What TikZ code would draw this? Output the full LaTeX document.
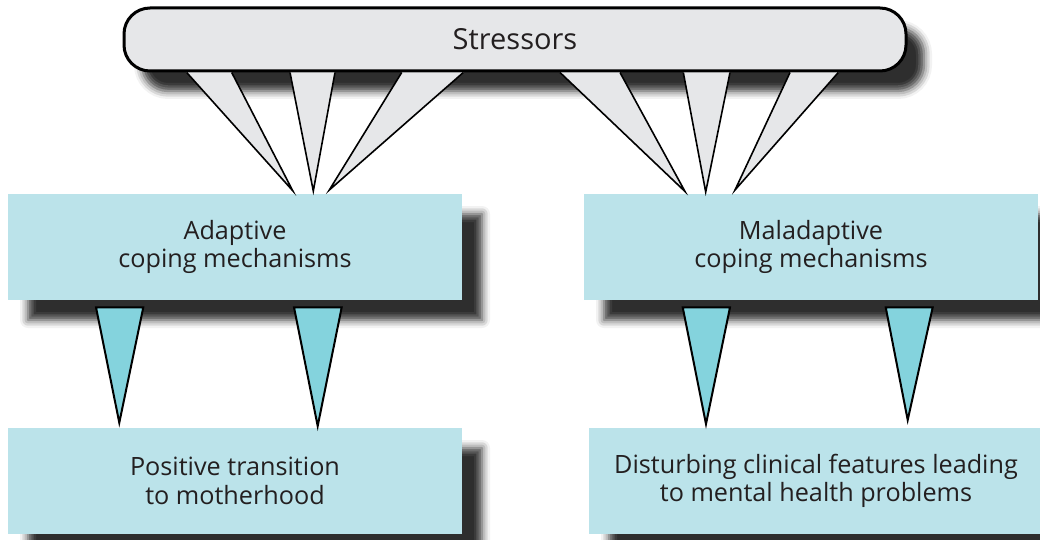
\documentclass[tikz,border=0pt]{standalone}
\usepackage{fontspec}
\setmainfont{Open Sans}
\usetikzlibrary{calc,shadows.blur}
\definecolor{boxfill}{RGB}{187,227,234}
\definecolor{trifill}{RGB}{132,211,221}
\definecolor{greyfill}{RGB}{230,231,233}
\definecolor{txt}{RGB}{35,31,32}
\tikzset{
  cbox/.style={fill=boxfill, minimum width=454pt, minimum height=106pt, inner sep=0pt,
    align=center, text=txt, font=\fontsize{25.2}{28.5}\selectfont,
    blur shadow={shadow xshift=20pt, shadow yshift=-20pt, shadow blur radius=8pt, shadow opacity=82}},
  stressbox/.style={fill=greyfill, draw=black, line width=3pt, rounded corners=26pt,
    minimum width=782pt, minimum height=63pt, inner sep=0pt, text=txt,
    font=\fontsize{29}{32}\selectfont,
    blur shadow={shadow xshift=18pt, shadow yshift=-20pt, shadow blur radius=8pt, shadow opacity=82}},
  wedgefill/.style={fill=greyfill},
  wedgeline/.style={draw=black, line width=1.6pt, line join=miter},
  downtri/.style={fill=trifill, draw=black, line width=2pt, line join=miter},
}
\begin{document}
\begin{tikzpicture}[x=1pt,y=-1pt]
\useasboundingbox (0,0) rectangle (1040,540);
% boxes
\node[cbox] (A) at (235,247) {Adaptive\\coping mechanisms};
\node[cbox] (M) at (811,247) {Maladaptive\\coping mechanisms};
\node[cbox] (P) at (235,481) {Positive transition\\to motherhood};
\node[cbox] (D) at (816,481) {Disturbing clinical features leading\\to mental health problems};
% stressors
\node[stressbox] (S) at (515,39.5) {Stressors};
% wedge tips
\coordinate (t1) at (292.7,190.7);
\coordinate (t2) at (313.3,191);
\coordinate (t3) at (329.3,190);
\coordinate (t4) at (685,191.5);
\coordinate (t5) at (705.7,192);
\coordinate (t6) at (735,190);
% wedges from Stressors to coping boxes
\foreach \a/\b/\t in {186.7/231.7/t1, 290/335/t2, 401.7/463.3/t3, 560/620/t4, 683.3/730/t5, 790/838.3/t6}{
  \fill[wedgefill] (\a,72.5) -- (\t) -- (\b,72.5) -- cycle;
  \draw[wedgeline] (\a,72.5) -- (\t) -- (\b,72.5);
}
% down triangles
\coordinate (d1) at (119.3,422.7);
\coordinate (d2) at (317.7,426);
\coordinate (d3) at (706,424);
\coordinate (d4) at (907.7,420);
\draw[downtri] (96,307.3) -- (143.3,307.3) -- (d1) -- cycle;
\draw[downtri] (294,307.3) -- (341.7,307.3) -- (d2) -- cycle;
\draw[downtri] (682.7,307.3) -- (730,307.3) -- (d3) -- cycle;
\draw[downtri] (885.7,307.3) -- (932.7,307.3) -- (d4) -- cycle;
\end{tikzpicture}
\end{document}
